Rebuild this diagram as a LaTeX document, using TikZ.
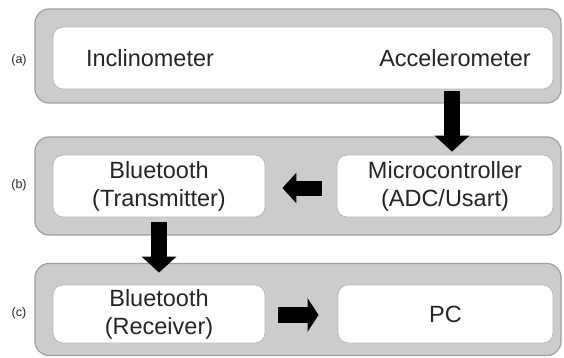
\documentclass[tikz,border=0pt]{standalone}
\usepackage{fontspec}
\setmainfont{Liberation Sans}
\usetikzlibrary{arrows.meta,calc}
\begin{document}
\begin{tikzpicture}[x=1pt,y=-1pt,
  outer/.style={draw=gray!75, fill=gray!40, line width=1.2pt, rounded corners=14pt, minimum width=526pt, inner sep=0pt},
  innerbox/.style={draw=gray!55, fill=white, rounded corners=10pt, line width=0.8pt, inner sep=0pt},
  txt/.style={font=\fontsize{23.5}{28}\selectfont, align=center, text=black!85},
  lab/.style={font=\fontsize{12.5}{14}\selectfont, text=black!85},
  blk/.style={line width=16pt, black, -{Triangle[width=34pt,length=16pt]}}]
\useasboundingbox (0,0) rectangle (564,358);
% outer panels
\node[outer, minimum height=94pt] (pa) at (298,56) {};
\node[outer, minimum height=98pt] (pb) at (298,186) {};
\node[outer, minimum height=92pt] (pc) at (298,309.5) {};
% inner boxes
\node[innerbox, minimum width=500pt, minimum height=62pt] (ia) at (303,58) {};
\node[txt] (inc) at (150,58) {Inclinometer};
\node[txt] (acc) at (455,58) {Accelerometer};
\node[innerbox, txt, minimum width=212pt, minimum height=62pt] (btt) at (159,186) {Bluetooth\\(Transmitter)};
\node[innerbox, txt, minimum width=216pt, minimum height=62pt] (mic) at (445,186) {Microcontroller\\(ADC/Usart)};
\node[innerbox, txt, minimum width=212pt, minimum height=58pt] (btr) at (159,314) {Bluetooth\\(Receiver)};
\node[innerbox, txt, minimum width=215pt, minimum height=58pt] (pcn) at (445.5,314) {PC};
% labels
\node[lab] (la) at (19,60) {(a)};
\node[lab] (lb) at (19,185) {(b)};
\node[lab] (lc) at (19,313) {(c)};
% arrows
\draw[blk] ($(ia.south)!(452,0)!(ia.south east)+(0,2)$) -- ($(mic.north)!(452,0)!(mic.north east)+(0,-3)$);
\draw[blk, line width=15pt, -{Triangle[width=30pt,length=14pt]}] ($(mic.west)+(-15,2)$) -- ($(btt.east)+(17,2)$);
\draw[blk] ($(btt.south)+(0,5)$) -- ($(btr.north)+(0,-12)$);
\draw[blk, -{Triangle[width=33pt,length=11pt]}] ($(btr.east)+(13,1)$) -- ($(pcn.west)+(-19,1)$);
\end{tikzpicture}
\end{document}
